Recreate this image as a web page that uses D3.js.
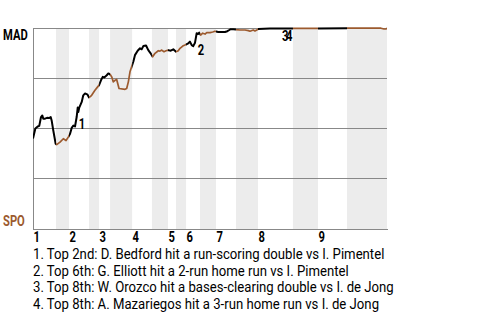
<!DOCTYPE html>
<html>
<head>
<meta charset="utf-8">
<script src="https://cdn.jsdelivr.net/npm/d3@7"></script>
<style>
  html, body { margin: 0; padding: 0; background: #fff; }
  svg { display: block; }
  text { font-family: Roboto, "Noto Sans", sans-serif; }
</style>
</head>
<body>
<div id="chart"></div>
<script>
// ---- data ----
const teams = { away: "MAD", home: "SPO" };
const innings = [1, 2, 3, 4, 5, 6, 7, 8, 9];
// start of each half-inning (pitch number), top/bottom alternating
const halfStarts = [0, 19.5, 30.5, 47.5, 56, 65.3, 84, 100.8, 114.4, 121.2, 129.7, 141.5, 155.1, 172, 190.7, 220.3, 241.5, 266.1];
const gameEnd = 300;
// MAD win probability (%) by pitch
const pitchNo = [0, 2, 4, 5.3, 6.8, 7.9, 8.7, 10.2, 11.9, 13.6, 15, 15.8, 17.2, 19.2, 20.1, 22.9, 25.7, 28, 29.9,
  31.4, 32.8, 34.2, 35.6, 37, 37.9, 38.4, 39.2, 41.3, 42.6, 44.1, 46, 47.5, 49.7, 52.5, 54.8, 55.9, 57.6, 59.1,
  60.4, 62.5, 63.8, 65.3, 66.7, 68, 69.5, 70.9, 71.8, 72.9, 78, 79.4, 80.8, 82.2, 83.6, 85, 86.4, 88.7, 90.7, 92.1,
  93.5, 95.8, 97.7, 99.7, 101.4, 103.4, 106.2, 107.6, 109.1, 111, 112.7, 114.7, 116.7, 118.9, 121.2, 123.1, 124.6,
  126.9, 128.8, 130.3, 131.6, 133, 134.5, 135.8, 137.3, 138.7, 140.1, 140.9, 142.1, 143.8, 145.8, 147.2, 150, 152.3,
  154.2, 157, 162.7, 164.7, 166.4, 167.5, 169.7, 172, 175.4, 179.7, 182.5, 183.9, 186.7, 188.1, 189.6, 191, 200.8,
  220.3, 241.5, 266.1, 294.9, 297.5, 299.2, 300];
const winProb = [45, 50, 51, 51.3, 55.7, 56.5, 54.9, 54.9, 55.3, 55.2, 55.7, 54, 49, 42.4, 42, 43.2, 44.9, 44, 45.7,
  47.4, 50.3, 51.5, 51, 55.7, 60.4, 58.2, 60.4, 63.2, 66.5, 67.4, 67, 65.4, 66.5, 69, 70.7, 71.5, 74, 75.7,
  75.4, 76.5, 77.4, 77, 75.7, 73.2, 74, 74.4, 72.4, 69.9, 69.5, 69.9, 73.2, 78.2, 80.7, 83.2, 86.5, 88.7, 89.9, 89.4,
  91, 91.3, 89, 87.4, 85.7, 87.4, 88.7, 88.5, 89, 88.2, 88.7, 89, 88.7, 89.4, 88.2, 88.7, 89.9,
  91, 91.5, 92, 92.4, 93.2, 91.5, 91, 92.7, 97.4, 97, 97.7, 96.5, 97.4, 97, 97.7, 97.7, 98,
  98.4, 98, 98, 98.4, 99, 99.4, 99.4, 99.2, 99, 99, 98.7, 98.4, 99, 98.5, 99, 99.5, 99.7,
  99.8, 99.8, 99.9, 99.9, 99.5, 99.5, 100];
const gridValues = [100, 75, 50, 25];
const eventLabels = ["1", "2", "3", "4"];
const eventPitch = [37, 138, 209.3, 212.7];
const eventProb = [55.7, 92.7, 99.7, 99.7];
const notes = [
  "1. Top 2nd: D. Bedford hit a run-scoring double vs I. Pimentel",
  "2. Top 6th: G. Elliott hit a 2-run home run vs I. Pimentel",
  "3. Top 8th: W. Orozco hit a bases-clearing double vs I. de Jong",
  "4. Top 8th: A. Mazariegos hit a 3-run home run vs I. de Jong"
];

// ---- layout ----
const W = 480, H = 320;
const M = { left: 33, right: 93, top: 28, bottom: 92 };
const awayColor = "#000000", homeColor = "#9c5a2e", bandColor = "#ececec", gridColor = "#888888";
const condensed = 0.8, notesScale = 0.94;

const svg = d3.select("#chart").append("svg").attr("width", W).attr("height", H);
const x = d3.scaleLinear().domain([0, gameEnd]).range([M.left, W - M.right]);
const y = d3.scaleLinear().domain([0, 100]).range([H - M.bottom + 1, M.top]);

const halves = halfStarts.map((s, i) => ({
  start: s, end: i < halfStarts.length - 1 ? halfStarts[i + 1] : gameEnd, top: i % 2 === 0
}));

// bands for bottom halves
svg.append("g").selectAll("rect").data(halves.filter(h => !h.top)).join("rect")
  .attr("x", d => x(d.start)).attr("width", d => x(d.end) - x(d.start))
  .attr("y", y(100)).attr("height", y(0) - y(100))
  .attr("fill", bandColor);

// grid
svg.append("g").selectAll("line").data(gridValues).join("line")
  .attr("x1", x(0)).attr("x2", x(gameEnd))
  .attr("y1", d => y(d)).attr("y2", d => y(d))
  .attr("stroke", gridColor).attr("stroke-width", 1).attr("shape-rendering", "crispEdges");

// axes
const xAxis = svg.append("g").attr("transform", `translate(0,${y(0)})`)
  .call(d3.axisBottom(x).tickValues(halfStarts.filter((d, i) => i % 2 === 0))
    .tickFormat((d, i) => innings[i]).tickSize(0).tickPadding(0));
xAxis.select(".domain").attr("stroke", gridColor).attr("shape-rendering", "crispEdges");
xAxis.selectAll("text")
  .attr("y", 0).attr("dy", 0).attr("x", 0)
  .attr("text-anchor", "start")
  .attr("font-size", 14).attr("font-weight", "bold").attr("fill", "#000")
  .attr("transform", `translate(0,13) scale(${condensed},1)`);

const yAxis = svg.append("g").attr("transform", `translate(${x(0)},0)`)
  .call(d3.axisLeft(y).tickValues([]).tickSizeOuter(0));
yAxis.select(".domain").attr("stroke", gridColor).attr("shape-rendering", "crispEdges");

// line, clipped per half inning
const pts = pitchNo.map((p, i) => [p, winProb[i]]);
const line = d3.line().x(d => x(d[0])).y(d => y(d[1]));
const defs = svg.append("defs");
[["topClip", true], ["botClip", false]].forEach(([id, isTop]) => {
  defs.append("clipPath").attr("id", id).selectAll("rect")
    .data(halves.filter(h => h.top === isTop)).join("rect")
    .attr("x", d => x(d.start)).attr("width", d => x(d.end) - x(d.start))
    .attr("y", 0).attr("height", H);
});
svg.append("path").datum(pts).attr("d", line).attr("fill", "none")
  .attr("stroke", homeColor).attr("stroke-width", 1.7).attr("stroke-linejoin", "round")
  .attr("clip-path", "url(#botClip)");
svg.append("path").datum(pts).attr("d", line).attr("fill", "none")
  .attr("stroke", awayColor).attr("stroke-width", 2).attr("stroke-linejoin", "round")
  .attr("clip-path", "url(#topClip)");

// event labels
svg.append("g").selectAll("text").data(eventLabels).join("text")
  .attr("transform", (d, i) => `translate(${x(eventPitch[i]) + 2},${y(eventProb[i]) + 12}) scale(${condensed},1)`)
  .attr("font-size", 14).attr("font-weight", "bold").attr("fill", "#000")
  .text(d => d);

// team labels
svg.append("text").attr("transform", `translate(3,40) scale(${condensed},1)`)
  .attr("font-size", 14).attr("font-weight", "bold").attr("fill", "#000").text(teams.away);
svg.append("text").attr("transform", `translate(3,226) scale(${condensed},1)`)
  .attr("font-size", 14).attr("font-weight", "bold").attr("fill", homeColor).text(teams.home);

// notes
svg.append("g").selectAll("text").data(notes).join("text")
  .attr("transform", (d, i) => `translate(${M.left},${259 + i * 16.7}) scale(${notesScale},1)`)
  .attr("font-size", 14).attr("fill", "#000")
  .text(d => d);
</script>
</body>
</html>
